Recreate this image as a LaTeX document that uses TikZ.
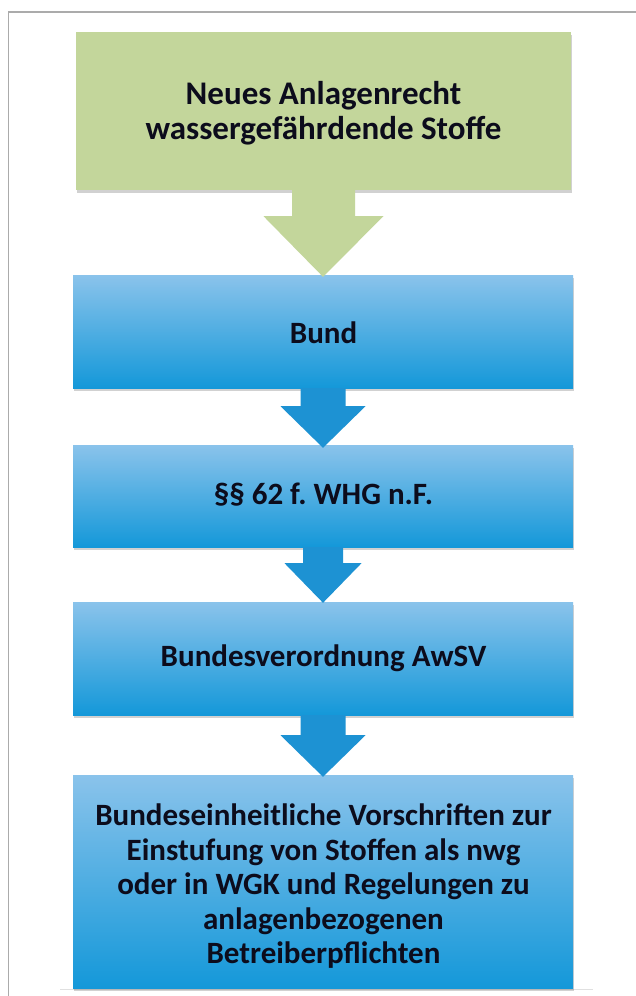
\documentclass[tikz,border=0pt]{standalone}
\usepackage{fontspec}
\setmainfont{Carlito}
\frenchspacing
\usetikzlibrary{calc,shadows}
\definecolor{boxgreen}{HTML}{C3D69B}
\definecolor{bluetop}{HTML}{8AC3EB}
\definecolor{bluebot}{HTML}{1498D9}
\definecolor{arrowblue}{HTML}{1D92D3}
\definecolor{framegray}{HTML}{ABABAB}
\definecolor{txt}{HTML}{0C0C1C}
\begin{document}
\begin{tikzpicture}[x=1pt,y=-1pt,
  boxbase/.style={rectangle, inner sep=0pt, draw=none,
    drop shadow={shadow xshift=1pt, shadow yshift=-2.5pt, opacity=0.18, fill=black}},
  greenbox/.style={boxbase, fill=boxgreen},
  bluebox/.style={boxbase, top color=bluetop, bottom color=bluebot, middle color=bluetop!50!bluebot},
  lbl/.style={align=center, text=txt, font=\bfseries\fontsize{31}{34.5}\selectfont, inner sep=0pt},
  biglbl/.style={lbl, font=\bfseries\fontsize{33}{34.5}\selectfont},
  greenarrow/.style={fill=boxgreen},
  bluearrow/.style={fill=arrowblue}]
\useasboundingbox (0,0) rectangle (636,996);
\fill[white] (0,0) rectangle (636,996);
% frame
\coordinate (fbl) at (8.5,996);
\coordinate (ftl) at (8.5,12);
\coordinate (ftr) at (636,12);
\draw[framegray, line width=1.5pt] (fbl) -- (ftl) -- (ftr);
\coordinate (bl1) at (60,989.5);
\coordinate (bl2) at (593,989.5);
\draw[black!12, line width=1pt] (bl1) -- (bl2);
% boxes
\node[greenbox, minimum width=495pt, minimum height=158pt] (top) at (323.5,111) {};
\node[bluebox, minimum width=500pt, minimum height=113pt] (b1) at (323,331.5) {};
\node[bluebox, minimum width=500pt, minimum height=102pt] (b2) at (323,496) {};
\node[bluebox, minimum width=500pt, minimum height=113pt] (b3) at (323,658.5) {};
\node[bluebox, minimum width=500pt, minimum height=213pt] (b4) at (323,881.5) {};
% arrows
\fill[greenarrow] ($(top.south)+(-31.5,0)$) -- ($(top.south)+(31.5,0)$) -- ($(top.south)+(31.5,26)$) -- ($(top.south)+(60,26)$) -- ($(b1.north)+(0,2)$) -- ($(top.south)+(-60,26)$) -- ($(top.south)+(-31.5,26)$) -- cycle;
\fill[bluearrow] ($(b1.south)+(-22.5,0)$) -- ($(b1.south)+(22.5,0)$) -- ($(b1.south)+(22.5,18)$) -- ($(b1.south)+(42.5,18)$) -- ($(b2.north)+(0,3)$) -- ($(b1.south)+(-42.5,18)$) -- ($(b1.south)+(-22.5,18)$) -- cycle;
\fill[bluearrow] ($(b2.south)+(-20,0)$) -- ($(b2.south)+(20,0)$) -- ($(b2.south)+(20,16)$) -- ($(b2.south)+(38.5,16)$) -- ($(b3.north)+(0,1)$) -- ($(b2.south)+(-38.5,16)$) -- ($(b2.south)+(-20,16)$) -- cycle;
\fill[bluearrow] ($(b3.south)+(-22.5,0)$) -- ($(b3.south)+(22.5,0)$) -- ($(b3.south)+(22.5,20)$) -- ($(b3.south)+(42.5,20)$) -- ($(b4.north)+(0,2)$) -- ($(b3.south)+(-42.5,20)$) -- ($(b3.south)+(-22.5,20)$) -- cycle;
% texts
\node[biglbl] (t0) at (323.5,113) {Neues Anlagenrecht\\wassergefährdende Stoffe};
\node[lbl] (t1) at (323.5,333) {Bund};
\node[lbl] (t2) at (323.5,495) {§§ 62 f. WHG n.F.};
\node[lbl] (t3) at (323.5,658) {Bundesverordnung AwSV};
\node[lbl] (t4) at (323.5,886.5) {Bundeseinheitliche Vorschriften zur\\Einstufung von Stoffen als nwg\\oder in WGK und Regelungen zu\\anlagenbezogenen\\Betreiberpflichten};
\end{tikzpicture}
\end{document}
